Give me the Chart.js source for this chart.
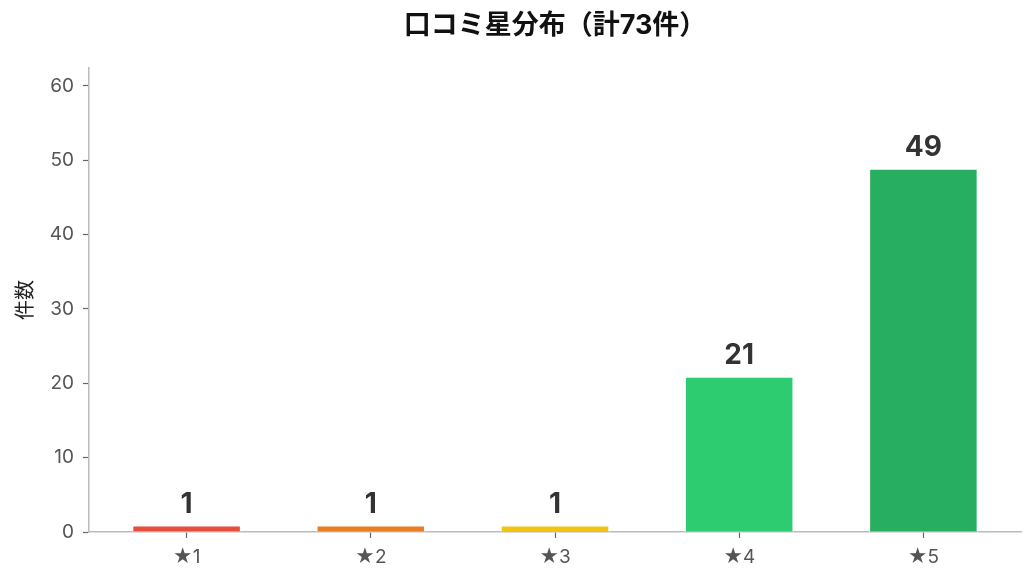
<!DOCTYPE html>
<html>
<head>
<meta charset="utf-8">
<script src="https://cdn.jsdelivr.net/npm/chart.js@4"></script>
<style>
  html, body { margin: 0; padding: 0; background: #fff; }
  #wrap { width: 1035px; height: 582px; }
</style>
</head>
<body>
<div id="wrap"><canvas id="chartStars" width="1035" height="582"></canvas></div>
<script>
const categories = ['★1', '★2', '★3', '★4', '★5'];
const counts = [1, 1, 1, 21, 49];
const barColors = ['#e74c3c', '#e67e22', '#f1c40f', '#2ecc71', '#27ae60'];
const yTicks = [0, 10, 20, 30, 40, 50, 60];
const titleText = '口コミ星分布（計73件）';

const FONT = 'Inter, "Noto Sans CJK JP", sans-serif';

// title and value labels drawn above the bars
const labelPlugin = {
  id: 'labels',
  afterDatasetsDraw(chart) {
    const c = chart.ctx;
    const area = chart.chartArea;
    c.save();
    c.fillStyle = '#111';
    c.font = 'bold 27px ' + FONT;
    c.textAlign = 'center';
    c.textBaseline = 'middle';
    c.fillText(titleText, (area.left + area.right) / 2, 26);

    c.fillStyle = '#333';
    c.font = 'bold 28px ' + FONT;
    c.textBaseline = 'alphabetic';
    chart.getDatasetMeta(0).data.forEach((bar, i) => {
      const y = chart.scales.y.getPixelForValue(counts[i]);
      c.fillText(String(counts[i]), bar.x, y - 12);
    });
    c.restore();
  }
};

new Chart(document.getElementById('chartStars'), {
  type: 'bar',
  data: {
    datasets: [{
      data: counts.map((v, i) => ({ x: i, y: v })),
      backgroundColor: barColors,
      borderColor: '#fff',
      borderWidth: 2,
      barPercentage: 0.6,
      categoryPercentage: 1
    }]
  },
  options: {
    responsive: false,
    animation: false,
    layout: { padding: { top: 68, right: 14, left: 0, bottom: 0 } },
    plugins: { legend: { display: false }, tooltip: { enabled: false } },
    scales: {
      x: {
        type: 'linear',
        offset: false,
        min: -0.53,
        max: 4.53,
        afterBuildTicks: s => { s.ticks = categories.map((_, i) => ({ value: i })); },
        afterFit: s => { s.height = 50; },
        grid: { offset: false, drawOnChartArea: false, tickLength: 6, color: '#666', tickWidth: 1.2 },
        border: { color: '#bbb', width: 1.5 },
        ticks: {
          padding: 8,
          color: '#555',
          font: { family: FONT, size: 19 },
          callback: v => categories[v]
        }
      },
      y: {
        min: 0,
        max: 62.4,
        afterBuildTicks: s => { s.ticks = yTicks.map(v => ({ value: v })); },
        afterFit: s => { s.width = 89; },
        grid: { drawOnChartArea: false, tickLength: 6, color: '#666', tickWidth: 1.2 },
        border: { color: '#bbb', width: 1.5 },
        title: {
          display: true,
          text: '件数',
          color: '#222',
          font: { family: FONT, size: 20 },
          padding: { top: 14, bottom: 0 }
        },
        ticks: {
          padding: 9,
          color: '#555',
          font: { family: FONT, size: 19 }
        }
      }
    }
  },
  plugins: [labelPlugin]
});
</script>
</body>
</html>
